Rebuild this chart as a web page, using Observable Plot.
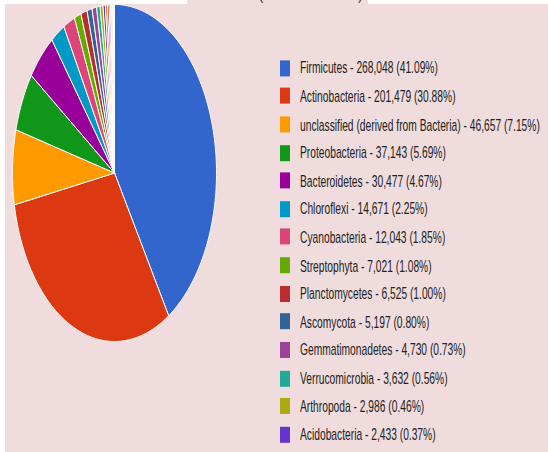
<!DOCTYPE html>
<html>
<head>
<meta charset="utf-8">
<script src="https://cdn.jsdelivr.net/npm/d3@7"></script>
<script src="https://cdn.jsdelivr.net/npm/@observablehq/plot@0.6"></script>
<style>
  html, body { margin: 0; padding: 0; background: #ffffff; }
  #page { position: relative; width: 548px; height: 452px; overflow: hidden; }
  #panel { position: absolute; left: 5px; top: 4px; width: 543px; height: 448px; background: #f0dcdc; }
  #titlebox { position: absolute; left: 187px; top: 0; width: 181px; height: 4px; background: #f0dcdc; overflow: hidden; }
  #titlebox span { position: absolute; top: -11px; font: 13px "Liberation Sans", Arial, sans-serif; color: #333; line-height: 14px; }
  #pie { position: absolute; left: 0; top: 0; }
  #legend { position: absolute; left: 280px; top: 54.4px; transform-origin: 0 0; transform: scaleY(1.6); }
  .lg-swatches { font-family: "Liberation Sans", Arial, sans-serif !important; font-size: 10.25px !important; color: #222; margin: 0 !important; }
  .lg-swatch { height: 17.62px; padding-bottom: 0 !important; }
  .lg-swatch > svg { margin-right: 10px !important; }
</style>
</head>
<body>
<div id="page">
  <div id="panel"></div>
  <div id="titlebox"><span style="left:72px">(</span><span style="left:171px">)</span></div>
  <div id="pie"></div>
  <div id="legend"></div>
</div>
<script>
// Legend categories (as shown in the reference)
const names = ["Firmicutes", "Actinobacteria", "unclassified (derived from Bacteria)", "Proteobacteria",
  "Bacteroidetes", "Chloroflexi", "Cyanobacteria", "Streptophyta", "Planctomycetes", "Ascomycota",
  "Gemmatimonadetes", "Verrucomicrobia", "Arthropoda", "Acidobacteria"];
const values = [268048, 201479, 46657, 37143, 30477, 14671, 12043, 7021, 6525, 5197, 4730, 3632, 2986, 2433];
const percents = ["41.09", "30.88", "7.15", "5.69", "4.67", "2.25", "1.85", "1.08", "1.00", "0.80", "0.73", "0.56", "0.46", "0.37"];
const colors = ["#3366cc", "#dc3912", "#ff9900", "#109618", "#990099", "#0099c6", "#dd4477", "#66aa00",
  "#b82e2e", "#316395", "#994499", "#22aa99", "#aaaa11", "#6633cc"];

// Small remaining slices (not listed in the visible legend)
const otherNames = ["other 1", "other 2", "other 3", "other 4", "other 5", "other 6", "other 7", "other 8"];
const otherValues = [2100, 1700, 1400, 1100, 1000, 800, 700, 502];
const otherColors = ["#e67300", "#8b0707", "#651067", "#329262", "#5574a6", "#3b3eac", "#b77322", "#16d620"];

const allNames = names.concat(otherNames);
const allValues = values.concat(otherValues);
const allColors = colors.concat(otherColors);

const slices = d3.pie().sort(null).value(d => d.value)(allNames.map((name, i) => ({name, value: allValues[i]})));
const pts = [];
for (const s of slices) {
  const n = Math.max(2, Math.ceil((s.endAngle - s.startAngle) / 0.01));
  pts.push({name: s.data.name, x: 0, y: 0});
  for (let k = 0; k <= n; k++) {
    const a = s.startAngle + (s.endAngle - s.startAngle) * k / n;
    pts.push({name: s.data.name, x: Math.sin(a), y: Math.cos(a)});
  }
  pts.push({name: s.data.name, x: 0, y: 0});
}

const pie = Plot.plot({
  width: 228,
  height: 345,
  marginLeft: 12,
  marginRight: 12,
  marginTop: 4,
  marginBottom: 4,
  x: {domain: [-1, 1], axis: null},
  y: {domain: [-1, 1], axis: null},
  color: {domain: allNames, range: allColors},
  style: {background: "transparent"},
  marks: [
    Plot.line(pts, {x: "x", y: "y", z: "name", fill: "name", stroke: "#ffffff", strokeWidth: 1, strokeLinejoin: "round", curve: "linear"})
  ]
});
document.getElementById("pie").appendChild(pie);

const fmt = d3.format(",");
const legend = Plot.legend({
  color: {type: "ordinal", domain: names, range: colors},
  columns: 1,
  className: "lg",
  swatchWidth: 10,
  swatchHeight: 10,
  width: 268,
  tickFormat: d => { const i = names.indexOf(d); return `${d} - ${fmt(values[i])} (${percents[i]}%)`; }
});
document.getElementById("legend").appendChild(legend);
</script>
</body>
</html>
